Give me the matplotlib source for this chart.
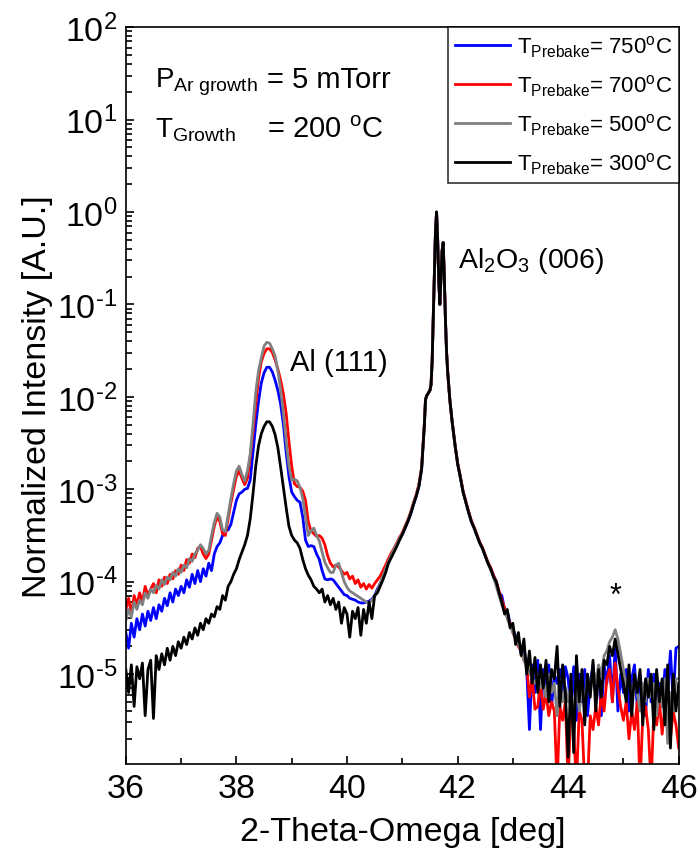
import numpy as np
import matplotlib
matplotlib.use('Agg')
import matplotlib.pyplot as plt
from matplotlib.ticker import (LogLocator, MultipleLocator, NullFormatter,
                               FuncFormatter, FixedLocator)

plt.rcParams['font.family'] = ['Liberation Sans', 'DejaVu Sans']
plt.rcParams['mathtext.fontset'] = 'custom'
plt.rcParams['mathtext.rm'] = 'Liberation Sans'
plt.rcParams['mathtext.it'] = 'Liberation Sans:italic'
plt.rcParams['mathtext.bf'] = 'Liberation Sans:bold'

# scan angles: coarse steps on the sides, fine steps over the substrate peak
angle_left = np.round(np.arange(36.00, 41.401, 0.05), 2)
angle_peak = np.round(np.arange(41.42, 41.981, 0.02), 2)
angle_right = np.round(np.arange(42.00, 46.001, 0.05), 2)
two_theta = np.concatenate([angle_left, angle_peak, angle_right])

# labelled decades on the y axis
decades = [1e-5, 1e-4, 1e-3, 1e-2, 1e-1, 1e0, 1e1, 1e2]

# log10 of normalized intensity
# sapphire (006) peak, identical for all samples
sapphire_log = [-2.03, -1.99, -1.97, -1.95, -1.93, -1.87, -1.62, -1.15, -0.68, -0.22,
                0.00, -0.30, -0.75, -1.00, -0.70, -0.42, -0.33, -0.70, -1.15, -1.50,
                -1.72, -1.88, -2.03, -2.15, -2.26, -2.36, -2.46, -2.55, -2.63]

left_750 = [-4.55, -4.72, -4.45, -4.60, -4.40, -4.52, -4.35, -4.48, -4.32, -4.42,
            -4.28, -4.40, -4.25, -4.32, -4.18, -4.26, -4.12, -4.22, -4.08, -4.15,
            -4.05, -4.12, -3.98, -4.06, -3.92, -4.02, -3.88, -4.00, -3.86, -3.94,
            -3.80, -3.88, -3.70, -3.62, -3.58, -3.50, -3.45, -3.44, -3.38, -3.25,
            -3.12, -3.05, -3.03, -3.00, -2.99, -2.90, -2.60, -2.30, -2.05, -1.85,
            -1.74, -1.68, -1.68, -1.73, -1.82, -1.93, -2.08, -2.30, -2.60, -2.86,
            -3.03, -3.08, -3.12, -3.14, -3.30, -3.55, -3.62, -3.61, -3.62, -3.70,
            -3.76, -3.88, -3.97, -3.98, -3.97, -3.98, -4.02, -4.06, -4.10, -4.14,
            -4.15, -4.18, -4.19, -4.20, -4.22, -4.23, -4.23, -4.22, -4.21, -4.19,
            -4.15, -4.08, -4.02, -3.95, -3.87, -3.79, -3.72, -3.66, -3.60, -3.54,
            -3.49, -3.42, -3.35, -3.27, -3.17, -3.08, -2.97, -2.78, -2.30]
right_750 = [-2.72, -2.87, -3.03, -3.14, -3.25, -3.35, -3.42, -3.50, -3.58, -3.64,
             -3.72, -3.80, -3.86, -3.93, -4.00, -4.12, -4.15, -4.30, -4.32, -4.45,
             -4.50, -4.60, -4.65, -4.78, -4.70, -4.95, -5.60, -4.90, -5.20, -4.85,
             -5.60, -4.95, -5.20, -4.90, -5.35, -5.00, -5.10, -4.95, -5.25, -4.92,
             -5.05, -5.40, -4.92, -5.50, -5.00, -5.30, -4.95, -5.45, -5.10, -4.90,
             -5.20, -4.95, -5.45, -4.90, -5.10, -4.80, -5.30, -4.70, -5.40, -5.00,
             -5.20, -4.95, -5.40, -5.05, -4.90, -5.35, -5.00, -5.25, -5.45, -4.95,
             -5.30, -5.00, -5.40, -5.10, -5.35, -4.95, -5.20, -4.75, -5.30, -4.72,
             -4.70]

left_700 = [-4.30, -4.18, -4.35, -4.15, -4.25, -4.12, -4.22, -4.05, -4.15, -4.08,
            -4.02, -4.12, -3.98, -4.05, -3.95, -4.02, -3.92, -3.97, -3.88, -3.92,
            -3.82, -3.88, -3.76, -3.80, -3.70, -3.74, -3.64, -3.62, -3.70, -3.75,
            -3.70, -3.55, -3.40, -3.30, -3.35, -3.48, -3.50, -3.32, -3.15, -3.00,
            -2.86, -2.80, -2.88, -2.95, -2.88, -2.65, -2.38, -2.08, -1.80, -1.62,
            -1.53, -1.48, -1.48, -1.52, -1.60, -1.70, -1.82, -1.97, -2.18, -2.48,
            -2.75, -2.94, -2.97, -2.98, -3.02, -3.12, -3.35, -3.45, -3.48, -3.51,
            -3.50, -3.53, -3.60, -3.72, -3.80, -3.84, -3.82, -3.84, -3.88, -3.92,
            -3.90, -3.97, -3.94, -4.02, -3.98, -4.06, -4.02, -4.08, -4.03, -4.07,
            -4.02, -3.98, -3.94, -3.88, -3.82, -3.75, -3.69, -3.64, -3.58, -3.52,
            -3.47, -3.40, -3.33, -3.25, -3.15, -3.06, -2.95, -2.76, -2.28]
right_700 = [-2.71, -2.86, -3.02, -3.13, -3.24, -3.34, -3.41, -3.49, -3.57, -3.63,
             -3.71, -3.79, -3.85, -3.93, -4.00, -4.10, -4.20, -4.28, -4.38, -4.45,
             -4.55, -4.62, -4.70, -4.75, -4.85, -4.90, -5.25, -5.05, -5.38, -5.35,
             -5.10, -5.38, -5.20, -5.45, -5.30, -5.40, -6.20, -5.35, -5.50, -5.30,
             -6.20, -5.30, -5.60, -6.20, -5.40, -5.50, -6.20, -6.20, -5.45, -5.60,
             -5.35, -5.55, -5.20, -5.40, -5.05, -4.95, -5.30, -4.88, -5.15, -5.35,
             -5.50, -5.30, -5.70, -5.40, -5.60, -5.30, -6.20, -5.45, -5.35, -5.60,
             -6.20, -5.40, -5.55, -5.30, -5.65, -5.35, -5.50, -5.70, -5.40, -5.55,
             -5.80]

left_500 = [-4.42, -4.30, -4.38, -4.22, -4.30, -4.20, -4.25, -4.12, -4.18, -4.08,
            -4.12, -4.04, -4.08, -3.98, -4.03, -3.95, -3.98, -3.90, -3.94, -3.86,
            -3.90, -3.82, -3.85, -3.75, -3.78, -3.70, -3.66, -3.60, -3.64, -3.70,
            -3.66, -3.50, -3.36, -3.26, -3.30, -3.44, -3.46, -3.28, -3.10, -2.94,
            -2.80, -2.75, -2.84, -2.91, -2.80, -2.62, -2.30, -1.95, -1.72, -1.58,
            -1.45, -1.41, -1.42, -1.48, -1.56, -1.72, -1.92, -2.18, -2.48, -2.75,
            -2.90, -2.89, -2.91, -2.98, -3.10, -3.30, -3.50, -3.45, -3.42, -3.50,
            -3.56, -3.68, -3.79, -3.85, -3.90, -3.90, -3.82, -3.80, -3.90, -4.00,
            -4.06, -4.10, -4.12, -4.14, -4.16, -4.18, -4.20, -4.22, -4.23, -4.20,
            -4.16, -4.10, -4.02, -3.94, -3.86, -3.78, -3.71, -3.65, -3.59, -3.53,
            -3.48, -3.41, -3.34, -3.26, -3.16, -3.07, -2.96, -2.77, -2.29]
right_500 = [-2.72, -2.87, -3.03, -3.14, -3.25, -3.35, -3.42, -3.50, -3.58, -3.64,
             -3.72, -3.80, -3.88, -3.95, -4.05, -4.15, -4.25, -4.32, -4.40, -4.48,
             -4.55, -4.62, -4.68, -4.75, -4.85, -4.92, -4.98, -5.05, -5.10, -5.00,
             -5.15, -5.05, -5.25, -5.00, -5.20, -5.10, -5.45, -5.05, -5.30, -5.15,
             -5.30, -5.10, -5.60, -5.05, -5.40, -5.15, -5.30, -5.00, -5.20, -4.95,
             -5.10, -4.90, -5.00, -4.80, -4.75, -4.65, -4.60, -4.52, -4.62, -4.78,
             -4.95, -5.15, -5.00, -5.30, -5.05, -5.20, -5.40, -5.10, -5.30, -5.05,
             -5.25, -5.10, -5.45, -5.15, -5.35, -5.05, -5.75, -5.20, -5.40, -5.05,
             -5.05]

left_300 = [-4.95, -5.20, -4.90, -5.35, -4.92, -5.05, -4.88, -5.45, -4.95, -4.85,
            -5.48, -4.80, -4.95, -4.78, -4.90, -4.72, -4.85, -4.70, -4.80, -4.65,
            -4.72, -4.60, -4.68, -4.55, -4.62, -4.50, -4.58, -4.45, -4.52, -4.40,
            -4.45, -4.35, -4.38, -4.27, -4.30, -4.15, -4.20, -4.05, -4.00, -3.92,
            -3.86, -3.76, -3.68, -3.60, -3.50, -3.32, -3.05, -2.75, -2.53, -2.40,
            -2.32, -2.27, -2.27, -2.32, -2.41, -2.55, -2.76, -2.98, -3.20, -3.40,
            -3.50, -3.55, -3.58, -3.64, -3.76, -3.86, -3.93, -3.98, -4.05, -4.08,
            -4.12, -4.08, -4.22, -4.15, -4.25, -4.18, -4.30, -4.22, -4.45, -4.28,
            -4.35, -4.60, -4.32, -4.40, -4.28, -4.58, -4.30, -4.45, -4.22, -4.40,
            -4.15, -4.12, -4.05, -3.98, -3.90, -3.80, -3.74, -3.68, -3.62, -3.55,
            -3.49, -3.42, -3.35, -3.27, -3.17, -3.08, -2.97, -2.78, -2.30]
right_300 = [-2.72, -2.87, -3.03, -3.14, -3.25, -3.35, -3.42, -3.50, -3.58, -3.64,
             -3.72, -3.80, -3.86, -3.95, -4.00, -4.12, -4.22, -4.35, -4.30, -4.50,
             -4.45, -4.68, -4.55, -4.80, -4.62, -5.00, -4.75, -5.10, -4.82, -5.20,
             -4.90, -5.15, -4.85, -5.30, -4.95, -5.05, -4.70, -5.35, -4.90, -5.20,
             -5.90, -5.00, -5.85, -4.80, -5.30, -4.95, -5.55, -5.00, -5.25, -4.85,
             -5.40, -4.95, -5.25, -4.85, -4.90, -4.70, -4.80, -4.62, -4.78, -4.95,
             -5.10, -5.30, -4.90, -5.45, -5.00, -5.20, -4.95, -5.55, -5.05, -5.25,
             -5.00, -5.60, -4.95, -5.30, -5.05, -5.55, -4.90, -5.80, -5.00, -5.40,
             -5.10]

prebake_labels = ['750', '700', '500', '300']
series_colors = ['#0000ff', '#ff0000', '#808080', '#000000']
series_log = [left_750 + sapphire_log + right_750,
              left_700 + sapphire_log + right_700,
              left_500 + sapphire_log + right_500,
              left_300 + sapphire_log + right_300]


def decade_label(v, pos):
    e = int(round(np.log10(v)))
    sign = '\u2010' if e < 0 else ''
    return r'10$^{\mathrm{' + sign + str(abs(e)) + '}}$'


fig = plt.figure(figsize=(6.99, 8.54), dpi=100)
ax = fig.add_axes([0.180, 0.104, 0.791, 0.863])

for lab, col, vals in zip(prebake_labels, series_colors, series_log):
    ax.plot(two_theta, 10.0 ** np.array(vals), color=col, lw=2.0,
            label=r'T$_{\mathrm{Prebake}}$= ' + lab + r'$^{\mathrm{o}}$C')

ax.set_yscale('log')
ax.set_xlim(36, 46)
ax.set_ylim(1.06e-6, 100)
ax.xaxis.set_major_locator(MultipleLocator(2))
ax.xaxis.set_minor_locator(MultipleLocator(1))
ax.yaxis.set_major_locator(FixedLocator(decades))
ax.yaxis.set_major_formatter(FuncFormatter(decade_label))
ax.yaxis.set_minor_locator(LogLocator(base=10, subs=np.arange(2, 10), numticks=20))
ax.yaxis.set_minor_formatter(NullFormatter())
ax.tick_params(which='both', direction='in', labelsize=24.5, pad=6, width=1.2)
ax.tick_params(which='major', length=6)
ax.tick_params(which='minor', length=4)
for sp in ax.spines.values():
    sp.set_linewidth(1.2)

ax.set_xlabel('2-Theta-Omega [deg]', fontsize=24.5, labelpad=9)
ax.set_ylabel('Normalized Intensity [A.U.]', fontsize=24.5, labelpad=3)

ax.text(0.052, 0.919, r'P$_{\mathrm{Ar\ growth}}$', transform=ax.transAxes,
        fontsize=20, va='baseline')
ax.text(0.052, 0.851, r'T$_{\mathrm{Growth}}$', transform=ax.transAxes,
        fontsize=20, va='baseline')
ax.text(0.256, 0.919, '= 5 mTorr', transform=ax.transAxes, fontsize=21, va='baseline')
ax.text(0.256, 0.851, r'= 200 $^{\mathrm{o}}$C', transform=ax.transAxes,
        fontsize=21, va='baseline')
ax.text(38.97, 10 ** -1.71, 'Al (111)', fontsize=21, va='baseline')
ax.text(42.0, 10 ** -0.60, r'Al$_2$O$_3$ (006)', fontsize=20.5, va='baseline')
ax.text(44.85, 10 ** -4.15, '*', fontsize=22, ha='center', va='center')

leg = ax.legend(loc='upper right', fontsize=16, frameon=True, fancybox=False,
                edgecolor='black', borderaxespad=0, handlelength=2.5,
                handletextpad=0.3, labelspacing=0.6, borderpad=0.3)
leg.get_frame().set_linewidth(1.2)

fig.savefig('out.png', dpi=100)
